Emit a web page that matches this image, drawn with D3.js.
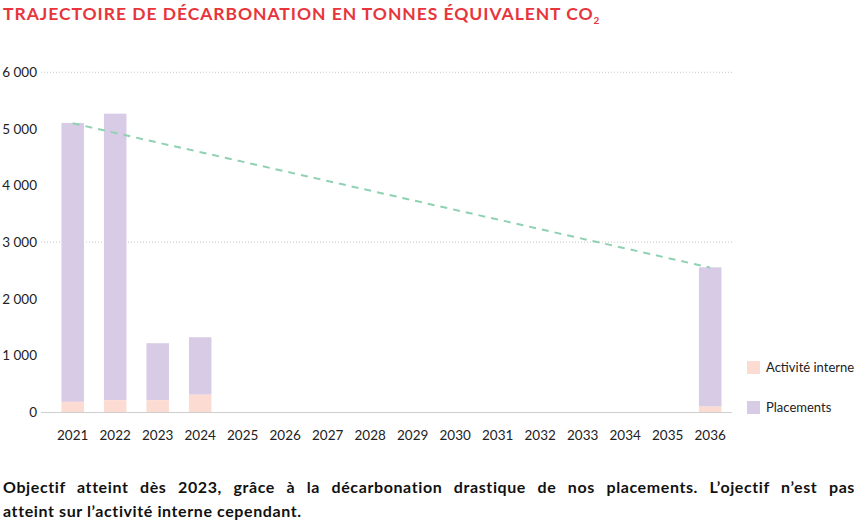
<!DOCTYPE html>
<html><head><meta charset="utf-8">
<script src="https://cdn.jsdelivr.net/npm/d3@7"></script>
<style>
body{margin:0;background:#fff;font-family:Lato,"Noto Sans",sans-serif;}
#note{position:absolute;left:3px;top:475px;width:852px;font-weight:bold;font-size:16px;line-height:24px;color:#111;letter-spacing:0.6px;}
#note .l1{display:block;text-align:justify;text-align-last:justify;white-space:nowrap;}
#note .l2{display:block;}
</style></head>
<body>
<svg id="chart" width="857" height="470" style="position:absolute;left:0;top:0"></svg>
<div id="note"><span class="l1">Objectif atteint dès 2023, grâce à la décarbonation drastique de nos placements. L’ojectif n’est pas</span><span class="l2">atteint sur l’activité interne cependant.</span></div>
<script>
const years = ["2021","2022","2023","2024","2025","2026","2027","2028","2029","2030","2031","2032","2033","2034","2035","2036"];
const interne = [180, 210, 210, 305, 0,0,0,0,0,0,0,0,0,0,0, 95];
const placements = [4925, 5060, 1005, 1015, 0,0,0,0,0,0,0,0,0,0,0, 2460];
const trajYears = ["2021","2036"];
const trajValues = [5100, 2550];
const yTicks = [0,1000,2000,3000,4000,5000,6000];
const gridValues = [3000,6000];

const svg = d3.select("#chart");
svg.append("text").attr("x",3).attr("y",20).attr("fill","#e8353c")
  .attr("font-size",17.5).attr("font-weight","bold").attr("font-family","Lato, sans-serif")
  .attr("letter-spacing",0.95)
  .text("TRAJECTOIRE DE DÉCARBONATION EN TONNES ÉQUIVALENT CO")
  .append("tspan").attr("font-size",10).attr("dy",4).text("2");

const x = d3.scaleBand().domain(years).range([51.45,731.45]).paddingInner(0.47).paddingOuter(0.235);
const y = d3.scaleLinear().domain([0,6000]).range([412,72.3]);

svg.append("g").selectAll("line").data(gridValues).join("line")
  .attr("x1",41).attr("x2",732).attr("y1",d=>y(d)).attr("y2",d=>y(d))
  .attr("stroke","#c8c8c8").attr("stroke-width",1).attr("stroke-dasharray","1,2");

const yAxis = svg.append("g").attr("transform","translate(37,0)")
  .call(d3.axisLeft(y).tickValues(yTicks).tickSize(0).tickPadding(0)
    .tickFormat(d=>d3.format(",")(d).replace(/,/g,"\u202f")));
yAxis.select(".domain").remove();
yAxis.selectAll("text").attr("font-size",13.5).attr("fill","#222").attr("font-family","Lato, sans-serif");

const stacked = years.map((yr,i)=>({yr, a:interne[i], b:placements[i]}));
const bars = svg.append("g");
bars.selectAll("rect.p").data(stacked.filter(d=>d.a+d.b>0)).join("rect")
  .attr("x",d=>x(d.yr)).attr("width",x.bandwidth())
  .attr("y",d=>y(d.a+d.b)).attr("height",d=>y(d.a)-y(d.a+d.b)).attr("fill","#d8cbe6");
bars.selectAll("rect.i").data(stacked.filter(d=>d.a>0)).join("rect")
  .attr("x",d=>x(d.yr)).attr("width",x.bandwidth())
  .attr("y",d=>y(d.a)).attr("height",d=>y(0)-y(d.a)).attr("fill","#fcdcd2");

svg.append("line").attr("x1",41).attr("x2",732).attr("y1",y(0)+0.5).attr("y2",y(0)+0.5)
  .attr("stroke","#cfcfcf").attr("stroke-width",1);

const xAxis = svg.append("g").attr("transform",`translate(0,${y(0)})`)
  .call(d3.axisBottom(x).tickSize(0).tickPadding(18));
xAxis.select(".domain").remove();
xAxis.selectAll("text").attr("font-size",13.5).attr("fill","#222").attr("font-family","Lato, sans-serif");

const line = d3.line().x((d,i)=>x(trajYears[i])+x.bandwidth()/2).y(d=>y(d));
svg.append("path").attr("d",line(trajValues)).attr("fill","none")
  .attr("stroke","#8fd1b2").attr("stroke-width",2).attr("stroke-dasharray","7,6");

const legend = [{label:"Activité interne",color:"#fcdcd2"},{label:"Placements",color:"#d8cbe6"}];
const lg = svg.append("g").selectAll("g").data(legend).join("g")
  .attr("transform",(d,i)=>`translate(747,${361+i*40})`);
lg.append("rect").attr("width",13).attr("height",13).attr("fill",d=>d.color);
lg.append("text").attr("x",19).attr("y",11).attr("font-size",13).attr("fill","#222")
  .attr("font-family","Lato, sans-serif").text(d=>d.label);
</script>
</body></html>
